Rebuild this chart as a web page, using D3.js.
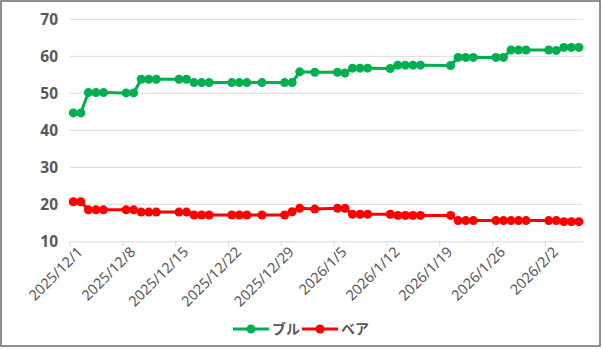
<!DOCTYPE html>
<html><head><meta charset="utf-8">
<script src="https://cdn.jsdelivr.net/npm/d3@7"></script>
<style>
html,body{margin:0;padding:0;background:#fff;}
svg{display:block;}
text{font-family:"Noto Sans","Noto Sans CJK JP",sans-serif;fill:#595959;}
</style></head>
<body>
<script>
const dates = ["2025-12-01","2025-12-02","2025-12-03","2025-12-04","2025-12-05","2025-12-08","2025-12-09","2025-12-10","2025-12-11","2025-12-12","2025-12-15","2025-12-16","2025-12-17","2025-12-18","2025-12-19","2025-12-22","2025-12-23","2025-12-24","2025-12-26","2025-12-29","2025-12-30","2025-12-31","2026-01-02","2026-01-05","2026-01-06","2026-01-07","2026-01-08","2026-01-09","2026-01-12","2026-01-13","2026-01-14","2026-01-15","2026-01-16","2026-01-20","2026-01-21","2026-01-22","2026-01-23","2026-01-26","2026-01-27","2026-01-28","2026-01-29","2026-01-30","2026-02-02","2026-02-03","2026-02-04","2026-02-05","2026-02-06"];
const bull = [44.7,44.7,50.2,50.2,50.2,50.1,50.1,53.8,53.8,53.8,53.8,53.8,52.9,52.9,52.9,52.9,52.9,52.9,52.9,52.9,52.9,55.8,55.7,55.7,55.5,56.8,56.8,56.8,56.7,57.6,57.6,57.6,57.6,57.5,59.7,59.7,59.7,59.7,59.7,61.7,61.7,61.7,61.7,61.6,62.4,62.4,62.4];
const bear = [20.7,20.7,18.5,18.5,18.5,18.5,18.5,17.9,17.9,17.9,17.9,17.9,17.1,17.1,17.1,17.1,17.1,17.1,17.1,17.1,18.0,18.9,18.7,18.9,18.9,17.3,17.3,17.3,17.3,17.0,17.0,17.0,17.0,17.0,15.6,15.6,15.6,15.6,15.6,15.6,15.6,15.6,15.6,15.6,15.3,15.3,15.3];
const seriesNames = ["ブル","ベア"];
const seriesColors = ["#00b050","#ff0000"];
const tickDates = ["2025-12-01","2025-12-08","2025-12-15","2025-12-22","2025-12-29","2026-01-05","2026-01-12","2026-01-19","2026-01-26","2026-02-02"];
const yTicks = [10,20,30,40,50,60,70];

const W = 602, H = 349;
const parse = s => { const [y,m,d] = s.split("-").map(Number); return new Date(y, m-1, d); };
const mid = s => { const d = parse(s); d.setHours(12); return d; };

const svg = d3.select("body").append("svg").attr("width", W).attr("height", H);
svg.append("rect").attr("x",1).attr("y",1).attr("width",W-3).attr("height",H-4)
  .attr("fill","#fff").attr("stroke","#6a6a6a").attr("stroke-width",1.5);

const x = d3.scaleTime().domain([parse("2025-12-01"), parse("2026-02-07")]).range([69.5, 582.7]);
const y = d3.scaleLinear().domain([10,70]).range([241.3, 19.3]);

// gridlines
svg.append("g").selectAll("line").data(yTicks.filter(v=>v>10)).join("line")
  .attr("x1",69.5).attr("x2",582.7).attr("y1",d=>y(d)).attr("y2",d=>y(d))
  .attr("stroke","#d9d9d9").attr("stroke-width",1);

// y labels
svg.append("g").selectAll("text").data(yTicks).join("text")
  .attr("x",58).attr("y",d=>y(d)).attr("dy","0.36em").attr("text-anchor","end")
  .attr("font-size",15.5).attr("font-weight","bold").text(d=>d);

// x axis
const fmt = d => `${d.getFullYear()}/${d.getMonth()+1}/${d.getDate()}`;
const xAxis = d3.axisBottom(x).tickValues(tickDates.map(parse)).tickFormat(fmt).tickSize(5).tickSizeOuter(0);
const gx = svg.append("g").attr("transform",`translate(0,${y(10)})`).call(xAxis);
gx.select(".domain").attr("stroke","#d9d9d9");
gx.selectAll(".tick line").attr("stroke","#d9d9d9");
gx.selectAll(".tick text").attr("font-size",14.5).attr("font-family",'"Noto Sans",sans-serif')
  .attr("fill","#595959").attr("text-anchor","end")
  .attr("transform","translate(10,8) rotate(-45)").attr("dy","0.35em").attr("y",0).attr("x",0);

const data = [bull, bear];
const line = d3.line().x(d=>x(mid(d[0]))).y(d=>y(d[1]));
data.forEach((vals,i)=>{
  const pts = dates.map((d,j)=>[d, vals[j]]);
  svg.append("path").datum(pts).attr("d",line).attr("fill","none")
    .attr("stroke",seriesColors[i]).attr("stroke-width",3).attr("stroke-linejoin","round");
  svg.append("g").selectAll("circle").data(pts).join("circle")
    .attr("cx",d=>x(mid(d[0]))).attr("cy",d=>y(d[1])).attr("r",4.5).attr("fill",seriesColors[i]);
});

// legend
const lg = svg.append("g");
const legX = [233, 302];
seriesNames.forEach((n,i)=>{
  const g = lg.append("g").attr("transform",`translate(${legX[i]},329)`);
  g.append("line").attr("x1",0).attr("x2",36).attr("stroke",seriesColors[i]).attr("stroke-width",3);
  g.append("circle").attr("cx",18).attr("r",4.5).attr("fill",seriesColors[i]);
  g.append("text").attr("x",39).attr("dy","0.36em").attr("font-size",14).attr("font-weight","bold")
    .attr("font-family",'"Noto Sans CJK JP",sans-serif').text(n);
});
</script>
</body></html>
